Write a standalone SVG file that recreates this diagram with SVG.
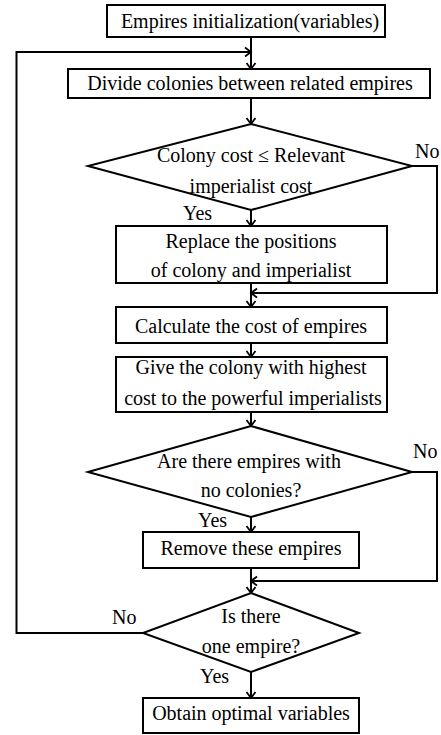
<svg xmlns="http://www.w3.org/2000/svg" width="441" height="735" viewBox="0 0 441 735">
<defs>
<marker id="ah" markerWidth="12" markerHeight="12" refX="10" refY="6" orient="auto" markerUnits="userSpaceOnUse">
<path d="M4,1.5 L10,6 L4,10.5" fill="none" stroke="#000" stroke-width="1.8"/>
</marker>
<style>
.box{fill:#fff;stroke:#000;stroke-width:2}
.t{font-family:"Liberation Serif","Times New Roman",serif;font-size:20px;fill:#000;text-anchor:middle}
.l{font-family:"Liberation Serif","Times New Roman",serif;font-size:20px;fill:#000}
.c{fill:none;stroke:#000;stroke-width:2}
</style>
</defs>
<rect width="441" height="735" fill="#fff"/>
<g id="connectors">
<line class="c" x1="251" y1="37" x2="251" y2="69" marker-end="url(#ah)"/>
<polyline class="c" points="143,633 16.5,633 16.5,52 251,52" marker-end="url(#ah)"/>
<line class="c" x1="251" y1="98" x2="251" y2="124" marker-end="url(#ah)"/>
<line class="c" x1="251" y1="210" x2="251" y2="226" marker-end="url(#ah)"/>
<polyline class="c" points="412,166 437,166 437,293 251,293" marker-end="url(#ah)"/>
<line class="c" x1="251" y1="283" x2="251" y2="307" marker-end="url(#ah)"/>
<line class="c" x1="251" y1="343" x2="251" y2="357" marker-end="url(#ah)"/>
<line class="c" x1="251" y1="412" x2="251" y2="426" marker-end="url(#ah)"/>
<line class="c" x1="251" y1="517" x2="251" y2="532" marker-end="url(#ah)"/>
<polyline class="c" points="412,472 437,472 437,581 251,581" marker-end="url(#ah)"/>
<line class="c" x1="251" y1="568" x2="251" y2="593" marker-end="url(#ah)"/>
<line class="c" x1="251" y1="672" x2="251" y2="698" marker-end="url(#ah)"/>
<text class="l" x="415" y="158">No</text>
<text class="l" x="183" y="220">Yes</text>
<text class="l" x="413" y="458">No</text>
<text class="l" x="198" y="527">Yes</text>
<text class="l" x="112" y="624">No</text>
<text class="l" x="200" y="683">Yes</text>
</g>
<g id="n1">
<rect class="box" x="107" y="5" width="278" height="32"/>
<text class="t" x="250" y="28">Empires initialization(variables)</text>
</g>
<g id="n2">
<rect class="box" x="68" y="69" width="362" height="29"/>
<text class="t" x="250" y="90">Divide colonies between related empires</text>
</g>
<g id="n3">
<polygon class="box" points="251,124 412,166 251,210 88,166"/>
<text class="t" x="251" y="162">Colony cost ≤ Relevant</text>
<text class="t" x="251" y="193">imperialist cost</text>
</g>
<g id="n4">
<rect class="box" x="116" y="226" width="271" height="57"/>
<text class="t" x="251" y="248">Replace the positions</text>
<text class="t" x="251" y="277">of colony and imperialist</text>
</g>
<g id="n5">
<rect class="box" x="116" y="307" width="271" height="36"/>
<text class="t" x="251" y="333">Calculate the cost of empires</text>
</g>
<g id="n6">
<rect class="box" x="116" y="357" width="271" height="55"/>
<text class="t" x="251" y="374">Give the colony with highest</text>
<text class="t" x="253" y="405">cost to the powerful imperialists</text>
</g>
<g id="n7">
<polygon class="box" points="251,426 412,472 251,517 88,472"/>
<text class="t" x="249" y="468">Are there empires with</text>
<text class="t" x="251" y="497">no colonies?</text>
</g>
<g id="n8">
<rect class="box" x="143" y="532" width="216" height="36"/>
<text class="t" x="251" y="555">Remove these empires</text>
</g>
<g id="n9">
<polygon class="box" points="251,593 359,633 251,672 143,633"/>
<text class="t" x="251" y="623">Is there</text>
<text class="t" x="251" y="653">one empire?</text>
</g>
<g id="n10">
<rect class="box" x="143" y="698" width="216" height="35"/>
<text class="t" x="251" y="720">Obtain optimal variables</text>
</g>
</svg>
